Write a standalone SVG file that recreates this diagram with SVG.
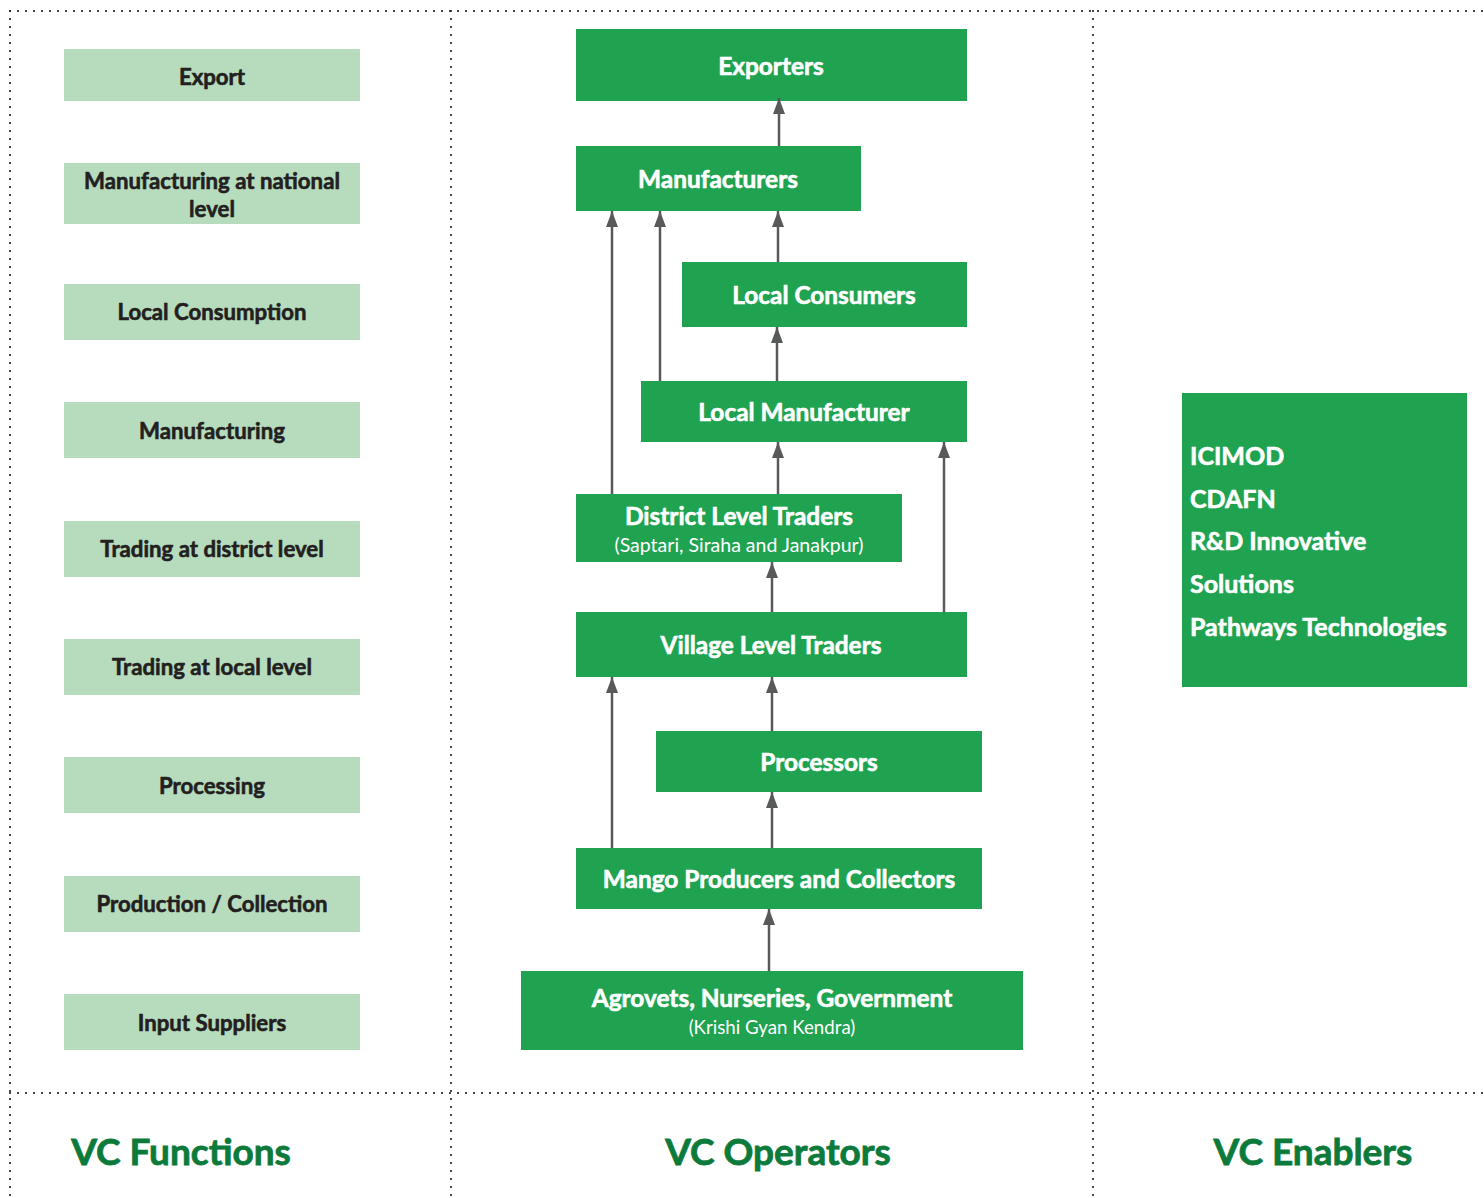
<svg xmlns="http://www.w3.org/2000/svg" width="1484" height="1198" viewBox="0 0 1484 1198">
  <style>
    text { font-family: Lato, "Open Sans", "Liberation Sans", sans-serif; }
    .fn rect { fill: #b6dbbd; }
    .fn text { fill: #231f20; stroke: #231f20; stroke-width: 0.6; font-weight: 700; font-size: 22.2px; text-anchor: middle; }
    .op rect { fill: #20a351; }
    .op text { fill: #ffffff; stroke: #ffffff; stroke-width: 0.6; font-weight: 700; font-size: 24.4px; text-anchor: middle; }
    .op text.sub { font-weight: 400; font-size: 19.5px; stroke-width: 0; }
    .op text.sub2 { font-size: 18.7px; }
    .en text { fill: #ffffff; stroke: #ffffff; stroke-width: 0.6; font-weight: 700; font-size: 25px; }
    .title { fill: #0b7a3b; stroke: #0b7a3b; stroke-width: 0.8; font-weight: 700; font-size: 37px; text-anchor: middle; }
    .grid line { stroke: #231f20; stroke-width: 2.2; stroke-linecap: round; stroke-dasharray: 0 8; }
    .conn line { stroke: #58595b; stroke-width: 2.5; marker-end: url(#head); }
  </style>
  <defs>
    <marker id="head" viewBox="0 0 16 12" refX="16" refY="6" markerWidth="16" markerHeight="12" markerUnits="userSpaceOnUse" orient="auto">
      <path d="M0,0 L16,6 L0,12 Z" fill="#58595b"/>
    </marker>
  </defs>

  <rect width="1484" height="1198" fill="#ffffff"/>

  <!-- dotted column grid -->
  <g class="grid">
    <line x1="10" y1="11" x2="1484" y2="11"/>
    <line x1="10" y1="1093" x2="1484" y2="1093"/>
    <line x1="10" y1="11" x2="10" y2="1198"/>
    <line x1="451" y1="11" x2="451" y2="1198"/>
    <line x1="1093" y1="11" x2="1093" y2="1198"/>
  </g>

  <!-- value chain functions -->
  <g class="fn">
    <g id="fn-export"><rect x="64" y="49" width="296" height="52"/><text x="212" y="85">Export</text></g>
    <g id="fn-manufacturing-national"><rect x="64" y="163" width="296" height="61"/><text x="212" y="189">Manufacturing at national</text><text x="212" y="217">level</text></g>
    <g id="fn-local-consumption"><rect x="64" y="284" width="296" height="56"/><text x="212" y="320">Local Consumption</text></g>
    <g id="fn-manufacturing"><rect x="64" y="402" width="296" height="56"/><text x="212" y="439">Manufacturing</text></g>
    <g id="fn-trading-district"><rect x="64" y="521" width="296" height="56"/><text x="212" y="557">Trading at district level</text></g>
    <g id="fn-trading-local"><rect x="64" y="639" width="296" height="56"/><text x="212" y="675">Trading at local level</text></g>
    <g id="fn-processing"><rect x="64" y="757" width="296" height="56"/><text x="212" y="794">Processing</text></g>
    <g id="fn-production"><rect x="64" y="876" width="296" height="56"/><text x="212" y="912">Production / Collection</text></g>
    <g id="fn-input"><rect x="64" y="994" width="296" height="56"/><text x="212" y="1031">Input Suppliers</text></g>
  </g>

  <!-- value chain operators -->
  <g class="op">
    <g id="op-exporters"><rect x="576" y="29" width="391" height="72"/><text x="771" y="75">Exporters</text></g>
    <g id="op-manufacturers"><rect x="576" y="146" width="285" height="65"/><text x="718" y="188">Manufacturers</text></g>
    <g id="op-local-consumers"><rect x="682" y="262" width="285" height="65"/><text x="824" y="304">Local Consumers</text></g>
    <g id="op-local-manufacturer"><rect x="641" y="381" width="326" height="61"/><text x="804" y="421">Local Manufacturer</text></g>
    <g id="op-district-traders"><rect x="576" y="494" width="326" height="68"/><text x="739" y="525">District Level Traders</text><text class="sub" x="739" y="552">(Saptari, Siraha and Janakpur)</text></g>
    <g id="op-village-traders"><rect x="576" y="612" width="391" height="65"/><text x="771" y="654">Village Level Traders</text></g>
    <g id="op-processors"><rect x="656" y="731" width="326" height="61"/><text x="819" y="771">Processors</text></g>
    <g id="op-mango-producers"><rect x="576" y="848" width="406" height="61"/><text x="779" y="888">Mango Producers and Collectors</text></g>
    <g id="op-agrovets"><rect x="521" y="971" width="502" height="79"/><text x="772" y="1007">Agrovets, Nurseries, Government</text><text class="sub sub2" x="772" y="1034">(Krishi Gyan Kendra)</text></g>
  </g>

  <!-- value chain enablers -->
  <g class="en" id="en-box">
    <rect x="1182" y="393" width="285" height="294" fill="#20a351" stroke="none"/>
    <text x="1190" y="465">ICIMOD</text>
    <text x="1190" y="508">CDAFN</text>
    <text x="1190" y="550">R&amp;D Innovative</text>
    <text x="1190" y="593">Solutions</text>
    <text x="1190" y="636">Pathways Technologies</text>
  </g>

  <!-- flow connectors -->
  <g class="conn">
    <line x1="779" y1="146" x2="779" y2="98"/>
    <line x1="612" y1="494" x2="612" y2="211"/>
    <line x1="660" y1="381" x2="660" y2="211"/>
    <line x1="778" y1="262" x2="778" y2="211"/>
    <line x1="777" y1="381" x2="777" y2="327"/>
    <line x1="778" y1="494" x2="778" y2="442"/>
    <line x1="944" y1="612" x2="944" y2="442"/>
    <line x1="772" y1="612" x2="772" y2="562"/>
    <line x1="612" y1="848" x2="612" y2="677"/>
    <line x1="772" y1="731" x2="772" y2="677"/>
    <line x1="772" y1="848" x2="772" y2="792"/>
    <line x1="769" y1="971" x2="769" y2="909"/>
  </g>

  <!-- column titles -->
  <g id="titles">
    <text class="title" x="181" y="1165">VC Functions</text>
    <text class="title" x="778" y="1165">VC Operators</text>
    <text class="title" x="1313" y="1165">VC Enablers</text>
  </g>
</svg>
